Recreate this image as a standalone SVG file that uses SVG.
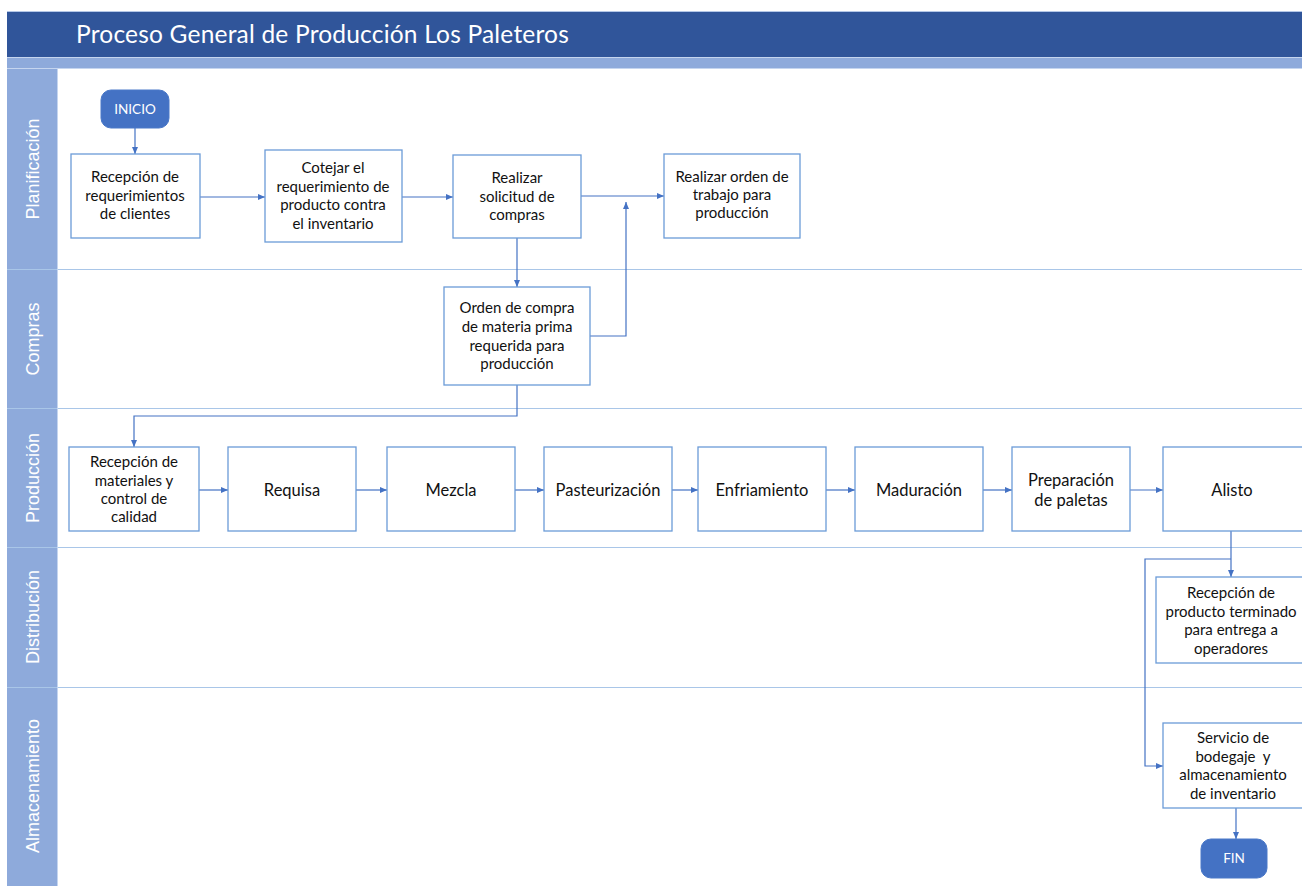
<svg xmlns="http://www.w3.org/2000/svg" width="1302" height="886" viewBox="0 0 1302 886">
<defs>
<style>
.box{fill:#fff;stroke:#6b9bd8;stroke-width:1.3}
.term{fill:#4472c4;stroke:#4a78c8;stroke-width:1}
.t{font-family:Lato,"Open Sans",sans-serif;font-size:15px;fill:#111;text-anchor:middle;white-space:pre}
.tl{font-family:Lato,"Open Sans",sans-serif;font-size:16.5px;fill:#111;text-anchor:middle}
.tw{font-family:Lato,"Open Sans",sans-serif;font-size:13.5px;fill:#fff;text-anchor:middle}
.lane{font-family:"Liberation Sans",Arial,sans-serif;font-size:18px;fill:#fff;text-anchor:middle}
.sep{stroke:#a9c6e8;stroke-width:1}
.c{fill:none;stroke:#4472c4;stroke-width:1.2;marker-end:url(#a)}
</style>
<marker id="a" markerWidth="8" markerHeight="8" refX="7" refY="4" orient="auto" markerUnits="userSpaceOnUse">
<path d="M0,1 L7,4 L0,7 Z" fill="#4472c4"/>
</marker>
</defs>
<rect width="1302" height="886" fill="#fff"/>
<g id="header">
<rect x="7" y="11" width="1295" height="46" fill="#30559a"/>
<line x1="7" y1="11.5" x2="1302" y2="11.5" stroke="#b4c7e7"/>
<rect x="7" y="57" width="1295" height="11" fill="#8eaadb"/>
<line x1="7" y1="57.5" x2="1302" y2="57.5" stroke="#c5d5ef"/>
<line x1="7" y1="68.5" x2="1302" y2="68.5" stroke="#c5d5ef"/>
<text x="76" y="43" font-family="Lato,'Open Sans',sans-serif" font-size="24.5" letter-spacing="0.2" fill="#fff">Proceso General de Producción Los Paleteros</text>
</g>
<g id="lanes">
<rect x="7" y="69" width="50" height="817" fill="#8eaadb"/>
<line x1="7" y1="269.5" x2="1302" y2="269.5" class="sep"/>
<line x1="7" y1="408.5" x2="1302" y2="408.5" class="sep"/>
<line x1="7" y1="547.5" x2="1302" y2="547.5" class="sep"/>
<line x1="7" y1="687.5" x2="1302" y2="687.5" class="sep"/>
<line x1="57.5" y1="69" x2="57.5" y2="886" stroke="#c5d5ef"/>
<text class="lane" transform="translate(39,169) rotate(-90)">Planificación</text>
<text class="lane" transform="translate(39,339) rotate(-90)">Compras</text>
<text class="lane" transform="translate(39,478) rotate(-90)">Producción</text>
<text class="lane" transform="translate(39,617) rotate(-90)">Distribución</text>
<text class="lane" transform="translate(39,786) rotate(-90)">Almacenamiento</text>
</g>
<g id="connectors">
<path class="c" d="M135,128 V154"/>
<path class="c" d="M200,197 H265"/>
<path class="c" d="M402,197 H453"/>
<path class="c" d="M581,196 H664"/>
<path class="c" d="M517,238 V287"/>
<path class="c" d="M590,336 H626 V202"/>
<path class="c" d="M517,385 V416 H134 V447"/>
<path class="c" d="M199,490 H228"/>
<path class="c" d="M356,490 H387"/>
<path class="c" d="M515,490 H544"/>
<path class="c" d="M672,490 H698"/>
<path class="c" d="M826,490 H855"/>
<path class="c" d="M983,490 H1012"/>
<path class="c" d="M1130,490 H1163"/>
<path class="c" d="M1231,531 V577"/>
<path class="c" d="M1231,559 H1145 V766 H1163"/>
<path class="c" d="M1236,808 V839"/>
</g>
<g id="inicio"><rect class="term" x="101" y="90" width="68" height="38" rx="10"/><text class="tw" x="135" y="114">INICIO</text></g>
<g id="n1"><rect class="box" x="71" y="154" width="129" height="84"/><text class="t" x="135" y="182">Recepción de</text><text class="t" x="135" y="201">requerimientos</text><text class="t" x="135" y="219">de clientes</text></g>
<g id="n2"><rect class="box" x="265" y="150" width="137" height="92"/><text class="t" x="333" y="173">Cotejar el</text><text class="t" x="333" y="192">requerimiento de</text><text class="t" x="333" y="210">producto contra</text><text class="t" x="333" y="229">el inventario</text></g>
<g id="n3"><rect class="box" x="453" y="155" width="128" height="83"/><text class="t" x="517" y="183">Realizar</text><text class="t" x="517" y="202">solicitud de</text><text class="t" x="517" y="220">compras</text></g>
<g id="n4"><rect class="box" x="664" y="154" width="136" height="84"/><text class="t" x="732" y="182">Realizar orden de</text><text class="t" x="732" y="200">trabajo para</text><text class="t" x="732" y="218">producción</text></g>
<g id="n5"><rect class="box" x="444" y="287" width="146" height="98"/><text class="t" x="517" y="313">Orden de compra</text><text class="t" x="517" y="332">de materia prima</text><text class="t" x="517" y="351">requerida para</text><text class="t" x="517" y="369">producción</text></g>
<g id="n6"><rect class="box" x="69" y="447" width="130" height="84"/><text class="t" x="134" y="467">Recepción de</text><text class="t" x="134" y="486">materiales y</text><text class="t" x="134" y="504">control de</text><text class="t" x="134" y="522">calidad</text></g>
<g id="n7"><rect class="box" x="228" y="447" width="128" height="84"/><text class="tl" x="292" y="496">Requisa</text></g>
<g id="n8"><rect class="box" x="387" y="447" width="128" height="84"/><text class="tl" x="451" y="496">Mezcla</text></g>
<g id="n9"><rect class="box" x="544" y="447" width="128" height="84"/><text class="tl" x="608" y="496">Pasteurización</text></g>
<g id="n10"><rect class="box" x="698" y="447" width="128" height="84"/><text class="tl" x="762" y="496">Enfriamiento</text></g>
<g id="n11"><rect class="box" x="855" y="447" width="128" height="84"/><text class="tl" x="919" y="496">Maduración</text></g>
<g id="n12"><rect class="box" x="1012" y="447" width="118" height="84"/><text class="tl" x="1071" y="486">Preparación</text><text class="tl" x="1071" y="506">de paletas</text></g>
<g id="n13"><rect class="box" x="1163" y="447" width="145" height="84"/><text class="tl" x="1232" y="496">Alisto</text></g>
<g id="n14"><rect class="box" x="1156" y="577" width="152" height="86"/><text class="t" x="1231" y="598">Recepción de</text><text class="t" x="1231" y="617">producto terminado</text><text class="t" x="1231" y="635">para entrega a</text><text class="t" x="1231" y="654">operadores</text></g>
<g id="n15"><rect class="box" x="1163" y="723" width="145" height="85"/><text class="t" x="1233" y="743">Servicio de</text><text class="t" x="1233" y="762">bodegaje  y</text><text class="t" x="1233" y="780">almacenamiento</text><text class="t" x="1233" y="799">de inventario</text></g>
<g id="fin"><rect class="term" x="1201" y="839" width="66" height="39" rx="10"/><text class="tw" x="1234" y="863">FIN</text></g>
</svg>
